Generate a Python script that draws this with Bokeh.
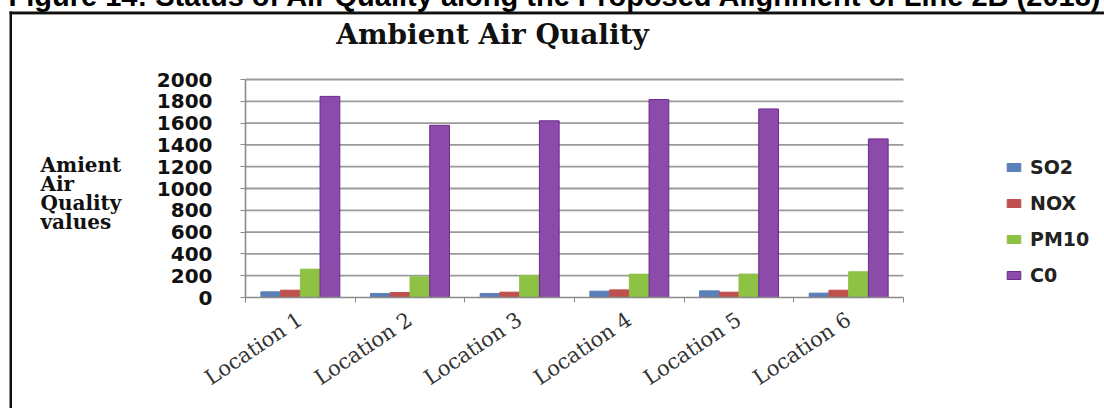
from bokeh.plotting import figure
from bokeh.models import Range1d, FixedTicker, Label, Legend, LegendItem, BoxAnnotation
from bokeh.embed import file_html
from bokeh.resources import INLINE
import numpy as np

locations = ["Location 1", "Location 2", "Location 3", "Location 4", "Location 5", "Location 6"]
so2 = [52, 37, 37, 58, 61, 40]
nox = [67, 46, 49, 70, 49, 67]
pm10 = [260, 190, 202, 214, 215, 236]
co = [1845, 1580, 1621, 1816, 1730, 1455]
series_names = ["SO2", "NOX", "PM10", "C0"]
y_ticks = [0, 200, 400, 600, 800, 1000, 1200, 1400, 1600, 1800, 2000]
page_title = "Figure 14: Status of Air Quality along the Proposed Alignment of Line 2B (2018)"
chart_title = "Ambient Air Quality"
y_title_lines = ["Amient", "Air", "Quality", "values"]

PAGE_W, PAGE_H = 1104, 408
FX, FY = -4, -4                      # page position of the canvas (set by the margin)
W, H = PAGE_W - FX, PAGE_H - FY      # canvas size so it reaches the window edges
# pixel layout of the plotting area (page pixels)
PX_L, PX_R, PY_T, PY_B = 245, 903, 79, 297
YMAX = 2000
n = len(locations)
kx = (PX_R - PX_L) / n
ky = (PY_B - PY_T) / YMAX
cl, cb = PX_L - FX, PY_B - FY        # canvas coords of the data origin
x_range = Range1d(-cl / kx, (W - cl) / kx)
y_range = Range1d(-(H - cb) / ky, cb / ky)

p = figure(width=W, height=H, output_backend="svg", toolbar_location=None,
           x_range=x_range, y_range=y_range, min_border=0,
           margin=(FY, FX, FY, FX))
p.title.visible = False
p.outline_line_color = None
p.background_fill_color = "white"
p.border_fill_color = "white"
p.xgrid.visible = False
p.ygrid.visible = False

def sx(px):
    return px - FX

def sy(py):
    return H - (py - FY)

# horizontal grid lines
grid_y = y_ticks[1:]
p.segment(x0=[0] * len(grid_y), x1=[n] * len(grid_y), y0=grid_y, y1=grid_y,
          line_color="#9A9A9A", line_width=1.8)

centers = np.arange(n) + 0.5
offsets = [-0.27, -0.09, 0.09, 0.27]
fills = ["#5B7FB8", "#C0504D", "#8DC245", "#8C4BAA"]
lines = ["#5B7FB8", "#C0504D", "#8DC245", "#6A2A8E"]
renderers = []
for vals, off, fc, lc in zip([so2, nox, pm10, co], offsets, fills, lines):
    r = p.vbar(x=centers + off, top=vals, width=0.18, fill_color=fc, line_color=lc, line_width=1)
    renderers.append(r)

# axes (drawn at fixed data locations)
xa = p.xaxis[0]
xa.fixed_location = 0
xa.bounds = (0, n)
xa.ticker = FixedTicker(ticks=list(centers), minor_ticks=list(range(n + 1)))
xa.major_label_overrides = {float(c): loc for c, loc in zip(centers, locations)}
xa.major_tick_line_color = None
xa.minor_tick_line_color = "#888888"
xa.minor_tick_in = 0
xa.minor_tick_out = 5
xa.axis_line_color = "#8A8A8A"
xa.axis_line_width = 1.6
xa.major_label_orientation = 0.59
xa.major_label_standoff = 14
xa.major_label_text_font = "DejaVu Serif"
xa.major_label_text_font_size = "21px"
xa.major_label_text_color = "#333333"

ya = p.yaxis[0]
ya.fixed_location = 0
ya.bounds = (0, YMAX)
ya.ticker = FixedTicker(ticks=y_ticks)
ya.minor_tick_line_color = None
ya.major_tick_line_color = "#888888"
ya.major_tick_in = 0
ya.major_tick_out = 5
ya.axis_line_color = "#8A8A8A"
ya.axis_line_width = 1.6
ya.major_label_standoff = 28
ya.major_label_text_font = "DejaVu Sans"
ya.major_label_text_font_style = "bold"
ya.major_label_text_font_size = "20px"
ya.major_label_text_color = "#111111"

# legend
items = [LegendItem(label=s, renderers=[r]) for s, r in zip(series_names, renderers)]
leg = Legend(items=items, location=(sx(1005), sy(286)), orientation="vertical",
             glyph_width=17, glyph_height=10, label_height=20, label_standoff=8,
             spacing=14, padding=0, margin=0, border_line_color=None,
             background_fill_alpha=0,
             label_text_font="DejaVu Sans", label_text_font_style="bold",
             label_text_font_size="19px", label_text_color="#222222")
p.add_layout(leg, "center")

# titles
p.add_layout(Label(x=sx(492), y=sy(34), x_units="screen", y_units="screen", text=chart_title,
                   text_align="center", text_baseline="middle", text_font="DejaVu Serif",
                   text_font_style="bold", text_font_size="28px", text_color="#111111"))
p.add_layout(Label(x=sx(8), y=sy(-5), x_units="screen", y_units="screen", text=page_title,
                   text_align="left", text_baseline="middle", text_font="Liberation Sans",
                   text_font_style="bold", text_font_size="29px", text_color="#000000"))
for i, t in enumerate(y_title_lines):
    p.add_layout(Label(x=sx(40), y=sy(164 + 19 * i), x_units="screen", y_units="screen", text=t,
                       text_align="left", text_baseline="middle", text_font="DejaVu Serif",
                       text_font_style="bold", text_font_size="20px", text_color="#111111"))

# outer frame lines
p.add_layout(BoxAnnotation(left=sx(9), right=sx(11.5), bottom=sy(PAGE_H), top=sy(11), left_units="screen",
                           right_units="screen", bottom_units="screen", top_units="screen",
                           fill_color="#111111", fill_alpha=1, line_color=None))
p.add_layout(BoxAnnotation(left=sx(9), right=sx(PAGE_W), bottom=sy(13.5), top=sy(11), left_units="screen",
                           right_units="screen", bottom_units="screen", top_units="screen",
                           fill_color="#111111", fill_alpha=1, line_color=None))
p.add_layout(BoxAnnotation(left=sx(11.5), right=sx(PAGE_W), bottom=sy(14.5), top=sy(13.5), left_units="screen",
                           right_units="screen", bottom_units="screen", top_units="screen",
                           fill_color="#999999", fill_alpha=1, line_color=None))

open("out.html", "w").write(file_html(p, INLINE))
